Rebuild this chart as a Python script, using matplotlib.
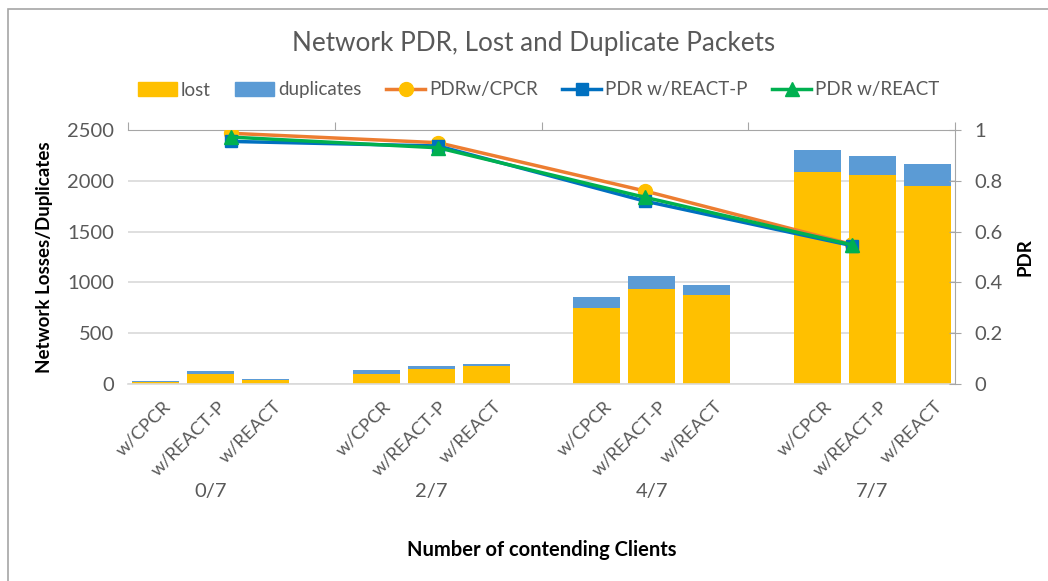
import matplotlib
matplotlib.use("Agg")
import matplotlib.pyplot as plt
from matplotlib.patches import Patch, Rectangle
from matplotlib.lines import Line2D
from matplotlib.transforms import blended_transform_factory

plt.rcParams['font.family'] = ['Lato', 'DejaVu Sans']

groups = ["0/7", "2/7", "4/7", "7/7"]
methods = ["w/CPCR", "w/REACT-P", "w/REACT"]

# lost / duplicates per group, per method (CPCR, REACT-P, REACT)
lost = [
    [20, 95, 40],
    [100, 145, 182],
    [750, 935, 875],
    [2090, 2060, 1950],
]
duplicates = [
    [12, 36, 12],
    [40, 30, 18],
    [105, 130, 100],
    [210, 185, 215],
]

pdr_cpcr = [0.987, 0.95, 0.76, 0.55]
pdr_reactp = [0.955, 0.937, 0.72, 0.545]
pdr_react = [0.972, 0.93, 0.735, 0.548]

C_LOST = "#FFC000"
C_DUP = "#5B9BD5"
C_ORANGE = "#ED7D31"
C_BLUE = "#0070C0"
C_GREEN = "#00B050"
TXT = "#595959"
GRID = "#D9D9D9"
FS = 14.5

fig = plt.figure(figsize=(10.48, 5.81), dpi=100)
W, H = 1048, 581
ax = fig.add_axes([128 / W, 1 - 384 / H, (955 - 128) / W, (384 - 130) / H])

# bar slot positions: 3 per group, one empty slot between groups
xs = []
lost_flat = []
dup_flat = []
lbls = []
for g in range(len(groups)):
    for m in range(len(methods)):
        xs.append(g * 4 + m)
        lost_flat.append(lost[g][m])
        dup_flat.append(duplicates[g][m])
        lbls.append(methods[m])

bw = 0.85
ax.bar(xs, lost_flat, width=bw, color=C_LOST, zorder=2)
ax.bar(xs, dup_flat, width=bw, bottom=lost_flat, color=C_DUP, zorder=2)
ax.set_xlim(-0.5, 14.5)
ax.set_ylim(0, 2500)
ax.set_yticks([0, 500, 1000, 1500, 2000, 2500])
ax.yaxis.grid(True, color=GRID, linewidth=1.2, zorder=0)
ax.set_axisbelow(True)
for s in ["top", "right", "left"]:
    ax.spines[s].set_visible(False)
ax.spines["bottom"].set_color(GRID)
ax.spines["bottom"].set_linewidth(1.2)
ax.tick_params(axis="y", length=0, labelsize=FS, labelcolor=TXT, pad=10)
ax.set_xticks(xs)
ax.set_xticklabels([])
ax.tick_params(axis="x", length=0)

trans = blended_transform_factory(ax.transData, fig.transFigure)
for x, l in zip(xs, lbls):
    ax.text(x + 0.12, 1 - 398 / H, l, transform=trans, rotation=45,
            rotation_mode="anchor", ha="right", va="top", fontsize=13.2, color=TXT)
for g, name in enumerate(groups):
    ax.text(g * 4 + 1, 1 - 492 / H, name, transform=trans, ha="center", va="center",
            fontsize=FS, color=TXT)

ax.set_ylabel("Network Losses/Duplicates", fontsize=13.5, fontweight="bold", labelpad=10)
fig.text((128 + 955) / 2 / W, 1 - 550 / H, "Number of contending Clients", ha="center",
         va="center", fontsize=FS, fontweight="bold")

# secondary y
ax2 = ax.twinx()
ax2.set_ylim(0, 1)
ax2.set_yticks([0, 0.2, 0.4, 0.6, 0.8, 1])
ax2.set_yticklabels(["0", "0.2", "0.4", "0.6", "0.8", "1"])
ax2.tick_params(axis="y", direction="inout", length=8, color="#A6A6A6", labelsize=FS,
                labelcolor=TXT, pad=10)
for s in ["top", "left", "bottom"]:
    ax2.spines[s].set_visible(False)
ax2.spines["right"].set_color("#A6A6A6")
ax2.set_ylabel("PDR", fontsize=13.5, fontweight="bold", labelpad=10)

# secondary x (lines over 4 evenly spaced categories)
ax3 = ax2.twiny()
ax3.set_xlim(-0.5, 3.5)
ax3.set_xticks([-0.5, 0.5, 1.5, 2.5, 3.5])
ax3.set_xticklabels([])
ax3.tick_params(axis="x", direction="out", length=6, color="#A6A6A6")
for s in ["bottom", "left", "right"]:
    ax3.spines[s].set_visible(False)
ax3.spines["top"].set_color("#A6A6A6")
gx = list(range(len(groups)))
ax3.plot(gx, pdr_cpcr, color=C_ORANGE, lw=2.5, marker="o", ms=10,
         mfc=C_LOST, mec=C_LOST, zorder=3)
ax3.plot(gx, pdr_reactp, color=C_BLUE, lw=2.5, marker="s", ms=9,
         mfc=C_BLUE, mec=C_BLUE, zorder=4)
ax3.plot(gx, pdr_react, color=C_GREEN, lw=2.5, marker="^", ms=10,
         mfc=C_GREEN, mec=C_GREEN, zorder=5)

fig.text(534 / W, 1 - 43 / H, "Network PDR, Lost and Duplicate Packets",
         ha="center", va="center", fontsize=18.8, color=TXT)

handles = [
    Patch(color=C_LOST, label="lost"),
    Patch(color=C_DUP, label="duplicates"),
    Line2D([], [], color=C_ORANGE, lw=2.5, marker="o", ms=10, mfc=C_LOST, mec=C_LOST,
           label="PDRw/CPCR"),
    Line2D([], [], color=C_BLUE, lw=2.5, marker="s", ms=9, mfc=C_BLUE, mec=C_BLUE,
           label="PDR w/REACT-P"),
    Line2D([], [], color=C_GREEN, lw=2.5, marker="^", ms=10, mfc=C_GREEN, mec=C_GREEN,
           label="PDR w/REACT"),
]
leg = fig.legend(handles=handles, loc="center", bbox_to_anchor=((137 + 940) / 2 / W, 1 - 90 / H),
                 ncol=5, frameon=False, fontsize=13.5, handlelength=2.1, handletextpad=0.2,
                 columnspacing=1.3)
for t in leg.get_texts():
    t.set_color(TXT)

fig.patches.append(Rectangle((8 / W, -0.1), 1.2, 1 - 9 / H + 0.1, transform=fig.transFigure,
                             fill=False, edgecolor="#A6A6A6", lw=1.2))

fig.savefig("out.png", dpi=100)
